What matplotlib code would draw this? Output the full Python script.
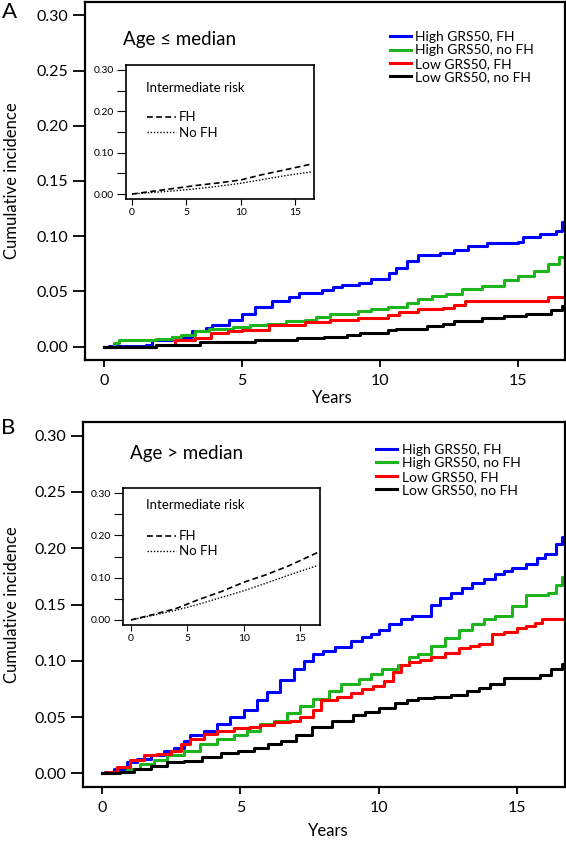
import matplotlib.pyplot as plt

plt.rcParams['font.family'] = ['Lato', 'DejaVu Sans']

# --- Datos panel A (edad <= mediana) ---
a_blue_t = [0, 0.2, 1.52, 1.76, 2.49, 3.21, 3.7, 3.94, 4.54, 5.02, 5.5, 6.1, 6.7, 7.08, 7.9, 8.3, 8.65, 9.26,
            9.7, 10.34, 10.6, 11.0, 11.4, 12.2, 12.7, 13.2, 13.9, 15.0, 15.2, 15.8, 16.4, 16.6, 16.8]
a_blue_v = [0, 0.001, 0.002, 0.006, 0.009, 0.014, 0.017, 0.020, 0.024, 0.030, 0.036, 0.041, 0.045, 0.049,
            0.051, 0.054, 0.056, 0.058, 0.061, 0.067, 0.071, 0.078, 0.083, 0.085, 0.088, 0.091, 0.094, 0.095,
            0.099, 0.102, 0.105, 0.113, 0.113]
a_green_t = [0, 0.36, 0.55, 1.9, 2.49, 2.8, 3.3, 3.8, 4.7, 5.3, 5.9, 6.6, 7.3, 7.7, 8.2, 9.2, 9.7, 10.3, 11.0,
             11.4, 11.9, 12.4, 13.0, 13.7, 14.5, 15.0, 15.6, 16.1, 16.5, 16.8]
a_green_v = [0, 0.003, 0.006, 0.007, 0.009, 0.011, 0.014, 0.016, 0.018, 0.020, 0.021, 0.023, 0.024, 0.027,
             0.030, 0.032, 0.034, 0.036, 0.040, 0.043, 0.046, 0.048, 0.052, 0.055, 0.060, 0.064, 0.069, 0.075,
             0.081, 0.081]
a_red_t = [0, 1.9, 2.6, 3.3, 3.9, 4.5, 5.0, 6.0, 7.3, 8.2, 9.2, 10.3, 10.7, 11.4, 12.3, 12.7, 13.1, 16.1, 16.8]
a_red_v = [0, 0.002, 0.006, 0.008, 0.012, 0.014, 0.015, 0.020, 0.022, 0.024, 0.026, 0.029, 0.031, 0.034,
           0.035, 0.038, 0.041, 0.045, 0.045]
a_black_t = [0, 1.9, 3.5, 5.5, 7.0, 8.0, 8.8, 9.3, 10.3, 10.6, 11.7, 12.3, 12.7, 13.7, 14.5, 15.3, 16.2,
             16.6, 16.8]
a_black_v = [0, 0.002, 0.004, 0.006, 0.008, 0.009, 0.011, 0.012, 0.015, 0.016, 0.019, 0.021, 0.023, 0.026,
             0.028, 0.030, 0.033, 0.037, 0.037]

# riesgo intermedio (inset A)
a_ins_t = [0, 2, 4, 6, 8, 10, 12, 14, 16.6]
a_ins_fh = [0, 0.007, 0.014, 0.021, 0.027, 0.034, 0.047, 0.058, 0.073]
a_ins_nofh = [0, 0.004, 0.008, 0.013, 0.019, 0.026, 0.035, 0.044, 0.054]

# --- Datos panel B (edad > mediana) ---
b_blue_t = [0, 0.1, 0.43, 0.91, 1.27, 1.76, 2.24, 2.6, 2.96, 3.2, 3.68, 4.16, 4.64, 5.12, 5.6, 5.96, 6.44,
            6.92, 7.28, 7.64, 8.0, 8.4, 9.0, 9.4, 9.7, 10.0, 10.35, 10.8, 11.2, 11.7, 11.9, 12.2, 12.6, 13.0,
            13.35, 13.8, 14.2, 14.5, 14.8, 15.3, 15.7, 16.0, 16.4, 16.6, 16.8]
b_blue_v = [0, 0.001, 0.004, 0.010, 0.013, 0.016, 0.020, 0.023, 0.029, 0.034, 0.038, 0.044, 0.050, 0.056,
            0.065, 0.072, 0.083, 0.093, 0.100, 0.106, 0.109, 0.112, 0.118, 0.121, 0.124, 0.127, 0.133, 0.137,
            0.140, 0.140, 0.150, 0.156, 0.160, 0.165, 0.169, 0.173, 0.177, 0.180, 0.182, 0.186, 0.191, 0.195,
            0.204, 0.210, 0.210]
b_green_t = [0, 0.43, 0.91, 1.39, 1.88, 2.36, 2.96, 3.56, 4.16, 4.76, 5.24, 5.72, 6.2, 6.68, 7.16, 7.64, 8.2,
             8.65, 9.3, 9.7, 10.1, 10.7, 11.1, 11.4, 11.9, 12.4, 12.9, 13.35, 13.8, 14.2, 14.8, 15.3, 16.1,
             16.4, 16.6, 16.8]
b_green_v = [0, 0.001, 0.004, 0.0086, 0.012, 0.016, 0.020, 0.026, 0.031, 0.034, 0.038, 0.044, 0.047, 0.054,
             0.060, 0.066, 0.073, 0.079, 0.084, 0.088, 0.093, 0.096, 0.103, 0.106, 0.113, 0.120, 0.127, 0.133,
             0.137, 0.140, 0.149, 0.158, 0.160, 0.167, 0.174, 0.174]
b_red_t = [0, 0.19, 0.55, 1.03, 1.51, 2.0, 2.48, 2.84, 3.2, 3.68, 4.16, 4.76, 5.36, 5.72, 6.2, 6.8, 7.16, 7.64,
           7.9, 8.5, 9.0, 9.4, 9.8, 10.2, 10.5, 10.8, 11.1, 11.5, 11.9, 12.4, 12.9, 13.3, 13.6, 14.1, 14.5,
           15.0, 15.3, 15.65, 15.9, 16.8]
b_red_v = [0, 0.001, 0.006, 0.012, 0.016, 0.017, 0.020, 0.026, 0.031, 0.035, 0.038, 0.040, 0.041, 0.043,
           0.046, 0.047, 0.050, 0.056, 0.065, 0.068, 0.071, 0.075, 0.078, 0.082, 0.090, 0.096, 0.099, 0.101,
           0.103, 0.107, 0.111, 0.113, 0.115, 0.124, 0.126, 0.129, 0.131, 0.134, 0.137, 0.137]
b_black_t = [0, 0.67, 1.15, 1.76, 2.36, 2.96, 3.6, 4.3, 4.9, 5.5, 6.0, 6.45, 7.0, 7.6, 8.3, 9.05, 9.5, 10.0,
             10.6, 11.0, 11.4, 12.0, 12.6, 13.2, 13.6, 14.0, 14.5, 15.8, 16.2, 16.6, 16.8]
b_black_v = [0, 0.001, 0.004, 0.007, 0.010, 0.0115, 0.015, 0.018, 0.020, 0.023, 0.026, 0.029, 0.034, 0.041,
             0.047, 0.052, 0.055, 0.058, 0.063, 0.065, 0.067, 0.068, 0.070, 0.073, 0.076, 0.079, 0.085, 0.087,
             0.093, 0.097, 0.097]

# riesgo intermedio (inset B)
b_ins_t = [0, 2, 4, 6, 8, 10, 12, 14, 16.6]
b_ins_fh = [0, 0.013, 0.027, 0.048, 0.067, 0.089, 0.107, 0.128, 0.160]
b_ins_nofh = [0, 0.011, 0.023, 0.037, 0.053, 0.069, 0.087, 0.106, 0.129]

labels = ['High GRS50, FH', 'High GRS50, no FH', 'Low GRS50, FH', 'Low GRS50, no FH']
colors = ['#0000FF', '#1EB41E', '#FF0000', '#000000']
ticks_x = [0, 5, 10, 15]
ticks_y = [0.00, 0.05, 0.10, 0.15, 0.20, 0.25, 0.30]

fig = plt.figure(figsize=(5.66, 8.42), dpi=100)


def main_panel(rect, curves, title, leg_anchor, title_pos):
    ax = fig.add_axes(rect)
    for (t, v), c, lab in zip(curves, colors, labels):
        ax.step(t, v, where='post', color=c, lw=2.2, label=lab)
    ax.set_xlim(-0.68, 16.72)
    ax.set_ylim(-0.012, 0.312)
    ax.set_xticks(ticks_x)
    ax.set_yticks(ticks_y)
    ax.set_yticklabels(['%.2f' % y for y in ticks_y])
    ax.tick_params(axis='y', length=8.5, width=1.3, labelsize=11.5, pad=3.5)
    ax.tick_params(axis='x', length=5, width=1.3, labelsize=11.5, pad=5)
    for s in ax.spines.values():
        s.set_linewidth(1.6)
    ax.text(title_pos[0], title_pos[1], title, transform=ax.transAxes, fontsize=13.5, va='center', ha='left')
    ax.legend(loc='upper left', bbox_to_anchor=leg_anchor, frameon=False, fontsize=10,
              handlelength=1.5, handletextpad=0.35, labelspacing=0.1, borderpad=0, borderaxespad=0)
    return ax


def inset_panel(rect, xlim, t, fh, nofh, text_pos, leg_anchor):
    ins = fig.add_axes(rect)
    ins.plot(t, fh, color='black', lw=1.2, dashes=(3.5, 2), label='FH')
    ins.plot(t, nofh, color='black', lw=1.0, linestyle=(0, (1, 1.3)), label='No FH')
    ins.set_xlim(xlim)
    ins.set_ylim(-0.012, 0.312)
    ins.set_xticks(ticks_x)
    ins.set_yticks(ticks_y)
    ins.set_yticklabels(['0.00', '', '0.10', '', '0.20', '', '0.30'])
    ins.tick_params(axis='y', length=6.5, width=0.8, labelsize=7.5, pad=2)
    ins.tick_params(axis='x', length=4.5, width=0.8, labelsize=7.5, pad=2)
    for s in ins.spines.values():
        s.set_linewidth(1.2)
    ins.text(text_pos[0], text_pos[1], 'Intermediate risk', transform=ins.transAxes, fontsize=9.5,
             va='center', ha='left')
    ins.legend(loc='upper left', bbox_to_anchor=leg_anchor, frameon=False, fontsize=9.5,
               handlelength=2.2, handletextpad=0.2, labelspacing=0.25, borderpad=0, borderaxespad=0)
    return ins


# --- Panel A ---
main_panel([85 / 566, 1 - 360 / 842, 480 / 566, 358 / 842],
           [(a_blue_t, a_blue_v), (a_green_t, a_green_v), (a_red_t, a_red_v), (a_black_t, a_black_v)],
           'Age \u2264 median', (0.635, 0.919), (0.079, 0.894))
inset_panel([126 / 566, 1 - 199 / 842, 188 / 566, 134 / 842], (-0.55, 16.75),
            a_ins_t, a_ins_fh, a_ins_nofh, (0.106, 0.828), (0.112, 0.655))
fig.text(332 / 566, 1 - 398 / 842, 'Years', ha='center', va='center', fontsize=12)
fig.text(12 / 566, 1 - 181 / 842, 'Cumulative incidence', ha='center', va='center', rotation=90, fontsize=12)
fig.text(9 / 566, 1 - 12 / 842, 'A', ha='center', va='center', fontsize=16)

# --- Panel B ---
main_panel([83 / 566, 1 - 787 / 842, 482 / 566, 365 / 842],
           [(b_blue_t, b_blue_v), (b_green_t, b_green_v), (b_red_t, b_red_v), (b_black_t, b_black_v)],
           'Age > median', (0.608, 0.940), (0.0975, 0.915))
inset_panel([123 / 566, 1 - 625 / 842, 197 / 566, 137 / 842], (-0.71, 16.77),
            b_ins_t, b_ins_fh, b_ins_nofh, (0.117, 0.876), (0.122, 0.692))
fig.text(328 / 566, 1 - 831 / 842, 'Years', ha='center', va='center', fontsize=12)
fig.text(12 / 566, 1 - 605 / 842, 'Cumulative incidence', ha='center', va='center', rotation=90, fontsize=12)
fig.text(8 / 566, 1 - 428 / 842, 'B', ha='center', va='center', fontsize=16)

plt.savefig('out.png', dpi=100)
